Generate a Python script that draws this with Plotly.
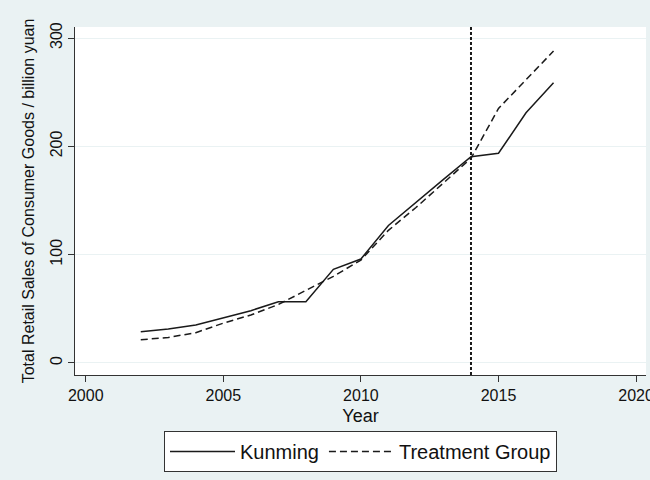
import plotly.graph_objects as go

years = list(range(2002, 2018))
kunming = [28.9, 31.4, 35.0, 41.3, 48.3, 56.6, 56.6, 86.5, 96.0, 127.0, 148.5, 169.5, 190.5, 193.6, 231.0, 258.8]
treatment = [21.5, 23.5, 28.0, 36.8, 44.3, 54.0, 67.0, 80.0, 95.0, 122.5, 143.5, 166.0, 189.0, 235.0, 261.5, 288.0]
policy_year = 2014
x_ticks = [2000, 2005, 2010, 2015, 2020]
y_ticks = [0, 100, 200, 300]

FONT = "Arial, Liberation Sans, sans-serif"
BG = "#EAF2F3"
INK = "#1a1a1a"

fig = go.Figure()
fig.add_trace(go.Scatter(x=years, y=kunming, mode="lines", name="Kunming",
                         line=dict(color=INK, width=1.5)))
fig.add_trace(go.Scatter(x=years, y=treatment, mode="lines", name="Treatment Group",
                         line=dict(color=INK, width=1.5, dash="7px,4px")))

fig.add_vline(x=policy_year, line=dict(color=INK, width=2, dash="3px,2px"))

fig.update_layout(
    width=650, height=480,
    paper_bgcolor=BG, plot_bgcolor="white",
    margin=dict(l=75, r=4, t=27, b=105),
    font=dict(family=FONT, color="#111", size=16),
    showlegend=True,
    legend=dict(orientation="h", x=0.5, xanchor="center", y=-0.161, yanchor="top",
                bgcolor="white", bordercolor="#333", borderwidth=1,
                font=dict(size=20, family=FONT), itemwidth=65),
    xaxis=dict(range=[1999.61, 2020.36], tickvals=x_ticks, showgrid=False, zeroline=False,
               showline=True, linecolor="#333", linewidth=1, ticks="outside", ticklen=6,
               tickcolor="#333", tickfont=dict(size=16), ticklabeloverflow="allow",
               automargin=False,
               title=dict(text="Year", font=dict(size=18), standoff=6)),
    yaxis=dict(range=[-11.1, 310.2], tickvals=y_ticks, showgrid=True, gridcolor=BG, gridwidth=1,
               zeroline=False, showline=True, linecolor="#333", linewidth=1, ticks="outside",
               ticklen=6, tickcolor="#333", tickangle=-90, tickfont=dict(size=16),
               automargin=False,
               title=dict(text="Total Retail Sales of Consumer Goods / billion yuan",
                          font=dict(size=16), standoff=8)),
)

fig.write_html("out.html", config={"displayModeBar": False},
               post_script="document.body.style.margin='0';document.body.style.padding='0';")
